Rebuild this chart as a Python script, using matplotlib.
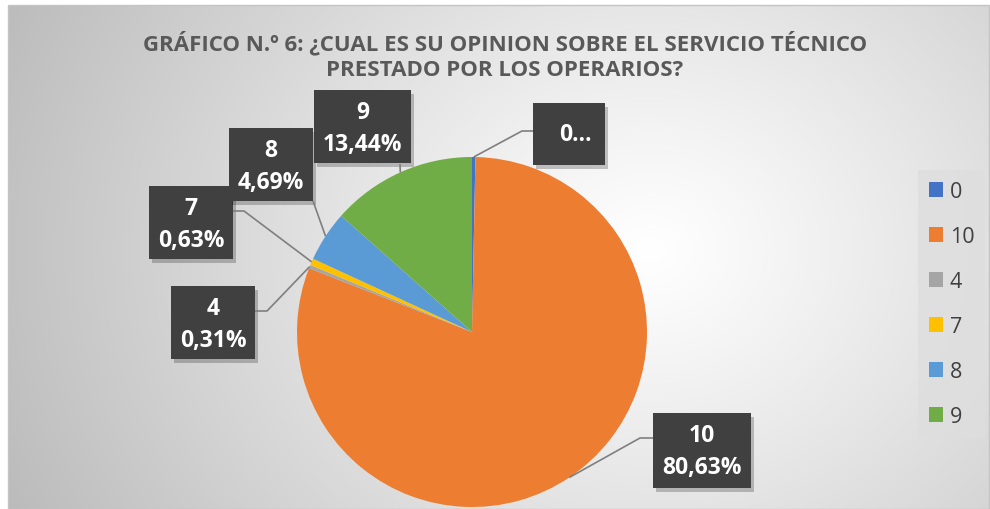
import numpy as np
import matplotlib
matplotlib.use("Agg")
import matplotlib.pyplot as plt
from matplotlib.patches import Rectangle
from decimal import Decimal, ROUND_HALF_UP

plt.rcParams['font.family'] = ['Open Sans', 'DejaVu Sans']
plt.rcParams['hatch.color'] = '#6a6a6a'
plt.rcParams['hatch.linewidth'] = 1.4

# datos
categorias = ['0', '10', '4', '7', '8', '9']
respuestas = [1, 258, 1, 2, 15, 43]
colores = ['#4472C4', '#ED7D31', '#A5A5A5', '#FFC000', '#5B9BD5', '#70AD47']
titulo = "GRÁFICO N.º 6: ¿CUAL ES SU OPINION SOBRE EL SERVICIO TÉCNICO\nPRESTADO POR LOS OPERARIOS?"

total = sum(respuestas)

def pct(v):
    p = Decimal(100 * v) / Decimal(total)
    return str(p.quantize(Decimal('0.01'), rounding=ROUND_HALF_UP)).replace('.', ',') + '%'

# posiciones de las cajas de etiquetas (pixeles) y codos de las lineas guia
cajas = {'0': (533, 104, 72, 62), '10': (653, 414, 98, 75), '4': (171, 287, 84, 73),
         '7': (149, 187, 84, 73), '8': (229, 129, 84, 73), '9': (314, 91, 97, 73)}
guias = {'0': [(533, 132), (522, 132)], '10': [(653, 439), (640, 439)],
         '4': [(255, 312), (267, 312)], '7': [(233, 212), (244, 212)],
         '8': [(313, 202)], '9': [(400, 165)]}

W, H = 990, 510
fig = plt.figure(figsize=(W / 100, H / 100), dpi=100)
fig.patch.set_facecolor('white')

# fondo con degradado radial
ax_bg = fig.add_axes([0, 0, 1, 1])
ax_bg.set_xlim(0, W)
ax_bg.set_ylim(H, 0)
ax_bg.axis('off')
xx, yy = np.meshgrid(np.arange(8, W - 1), np.arange(6, H))
d = np.sqrt(((xx - 650) / 1.0) ** 2 + ((yy - 250) / 0.85) ** 2)
g = 255 - 68 * (d / d.max()) ** 1.1
img = np.dstack([g, g, g]) / 255
ax_bg.imshow(img, extent=(8, W - 1, H, 6), aspect='auto', zorder=0)
ax_bg.add_patch(Rectangle((8, 6), W - 9, H - 6, fill=False, ec='#c4c4c4', lw=1, zorder=1))
# resto del encabezado del documento, cortado arriba
ax_bg.text(290, -6, 'g', fontsize=19, fontweight='bold', color='black',
           ha='center', va='baseline', zorder=2)

lineas = titulo.split('\n')
ax_bg.text(505, 43, lineas[0], fontsize=16, fontweight='bold', color='#595959',
           ha='center', va='center')
ax_bg.text(505, 71, lineas[1], fontsize=16, fontweight='bold', color='#595959',
           ha='center', va='center')

# pastel
cx, cy, r = 472, 333, 175
ax = fig.add_axes([(cx - r) / W, (H - cy - r) / H, 2 * r / W, 2 * r / H])
wedges, _ = ax.pie(respuestas, colors=colores, startangle=90, counterclock=False,
                   wedgeprops=dict(linewidth=0))
ax.set_xlim(-1, 1)
ax.set_ylim(-1, 1)
ax.set_zorder(2)

# capa superior para etiquetas
ax_top = fig.add_axes([0, 0, 1, 1])
ax_top.set_xlim(0, W)
ax_top.set_ylim(H, 0)
ax_top.axis('off')
ax_top.set_zorder(3)
ax_top.patch.set_alpha(0)

fig.canvas.draw()
acum = 0
for cat, v in zip(categorias, respuestas):
    ang = np.deg2rad(90 - 360 * (acum + v / 2) / total)
    acum += v
    borde = ax.transData.transform((np.cos(ang), np.sin(ang)))
    borde = ax_top.transData.inverted().transform(borde)
    pts = guias[cat] + [tuple(borde)]
    xs, ys = zip(*pts)
    ax_top.plot(xs, ys, color='#7f7f7f', lw=1.2, solid_capstyle='butt')

    x0, y0, w, h = cajas[cat]
    ax_top.add_patch(Rectangle((x0 + 3, y0 + 4), w, h, fc='black', ec='none', alpha=0.22))
    ax_top.add_patch(Rectangle((x0, y0), w, h, fc='#404040', ec='none', hatch='..'))
    if cat == '0':
        ax_top.text(x0 + w / 2 + 6, y0 + h / 2, cat + '…', fontsize=16.5, fontweight='bold',
                    color='white', ha='center', va='center')
    else:
        ax_top.text(x0 + w / 2, y0 + 22, cat, fontsize=16.5, fontweight='bold',
                    color='white', ha='center', va='center')
        ax_top.text(x0 + w / 2, y0 + 54, pct(v), fontsize=16.5, fontweight='bold',
                    color='white', ha='center', va='center')

# leyenda
leg = fig.legend(wedges, categorias, loc='upper left', bbox_to_anchor=(918 / W, 1 - 171 / H),
                 frameon=True, fontsize=15.5, handlelength=0.68, handleheight=0.68,
                 handletextpad=0.3, labelspacing=1.12, borderpad=0.5, borderaxespad=0)
leg.get_frame().set_facecolor('#dedede')
leg.get_frame().set_edgecolor('none')
leg.get_frame().set_boxstyle('square', pad=0)
leg.get_frame().set_alpha(0.8)
for t in leg.get_texts():
    t.set_color('#404040')
leg.set_zorder(4)

fig.savefig('out.png', dpi=100)
